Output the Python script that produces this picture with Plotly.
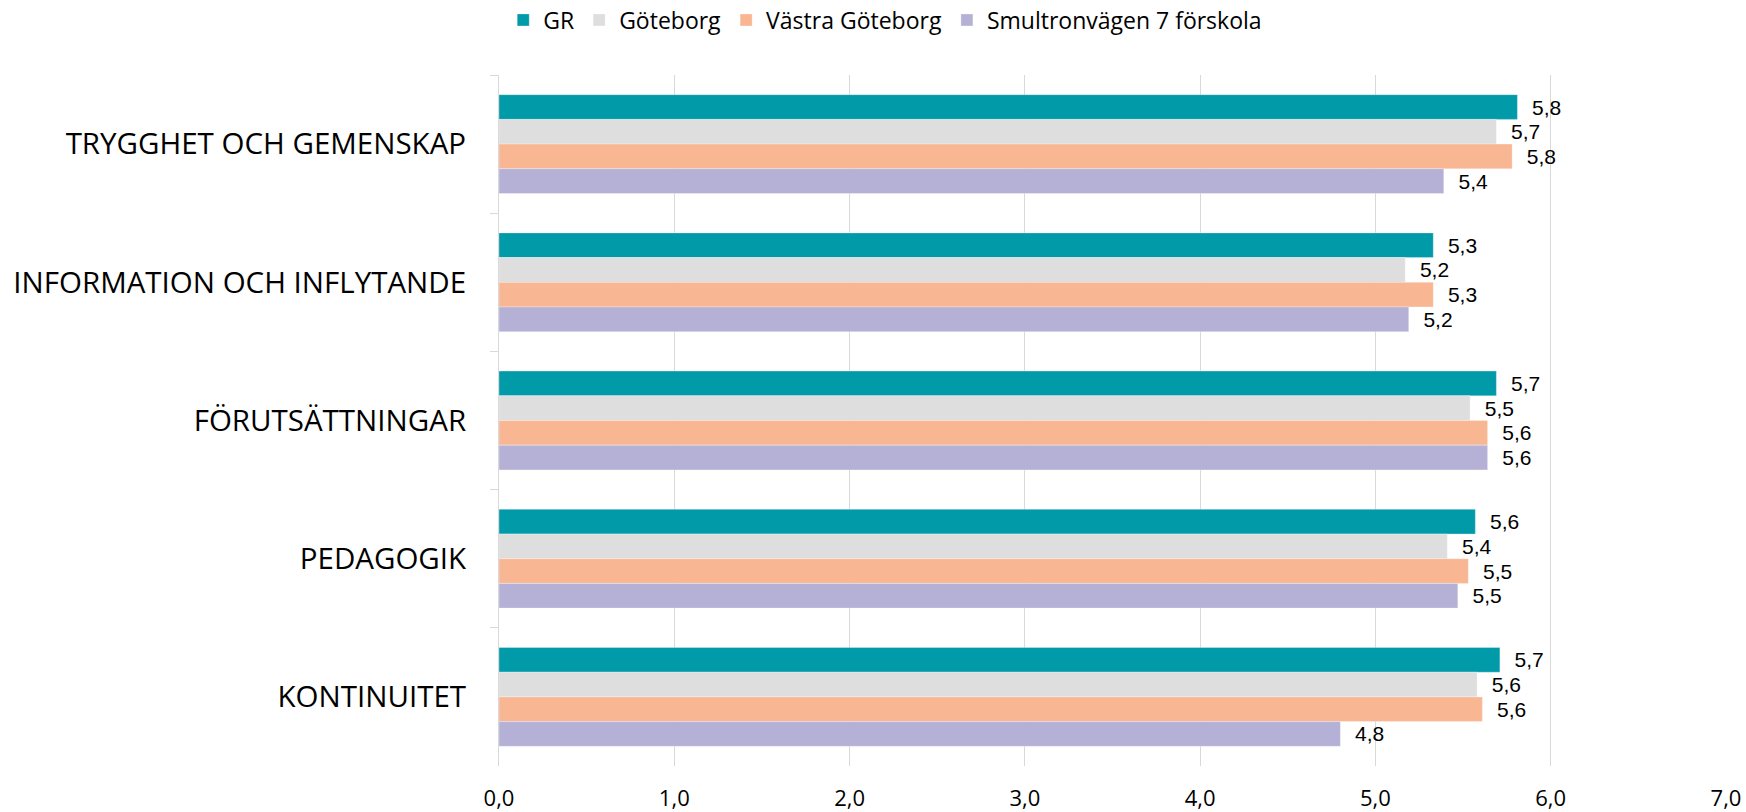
import plotly.graph_objects as go

categories = ["TRYGGHET OCH GEMENSKAP", "INFORMATION OCH INFLYTANDE",
              "FÖRUTSÄTTNINGAR", "PEDAGOGIK", "KONTINUITET"]
series_names = ["GR", "Göteborg", "Västra Göteborg", "Smultronvägen 7 förskola"]
gr = [5.81, 5.33, 5.69, 5.57, 5.71]
goteborg = [5.69, 5.17, 5.54, 5.41, 5.58]
vastra = [5.78, 5.33, 5.64, 5.53, 5.61]
smultron = [5.39, 5.19, 5.64, 5.47, 4.80]
tick_vals = [0, 1, 2, 3, 4, 5, 6, 7]

colors = ["#009AA9", "#DEDEDE", "#F8B692", "#B5B0D5"]
values = [gr, goteborg, vastra, smultron]

fig = go.Figure()
for name, vals, col in zip(series_names, values, colors):
    fig.add_trace(go.Bar(
        y=categories, x=vals, name=name, orientation="h",
        marker=dict(color=col, line=dict(color="rgba(255,255,255,0.6)", width=0.5)),
        texttemplate="\u00a0\u00a0%{x:.1f}", textposition="outside",
        textfont=dict(family="Liberation Sans, Arial", size=21, color="#000000"),
        cliponaxis=False,
    ))

fig.update_layout(
    width=1746, height=812,
    barmode="group", bargap=0.285, bargroupgap=0,
    separators=", ",
    plot_bgcolor="white", paper_bgcolor="white",
    margin=dict(l=499, r=20, t=75, b=46, autoexpand=False),
    font=dict(family="Open Sans", color="#000000"),
    legend=dict(orientation="h", xref="container", yref="container",
                x=0.507, xanchor="center", y=1 - 20 / 812, yanchor="middle",
                font=dict(family="Open Sans", size=23, color="#000000"),
                traceorder="normal"),
    xaxis=dict(range=[0, 7], tickvals=tick_vals, tickformat=".1f",
               showgrid=True, gridcolor="#D9D9D9", gridwidth=1,
               zeroline=False, showline=False, ticks="",
               ticklabelstandoff=17,
               tickfont=dict(family="Open Sans", size=22, color="#000000")),
    yaxis=dict(autorange="reversed", showline=True, linecolor="#D9D9D9", linewidth=1,
               ticks="outside", tickson="boundaries", ticklen=8, tickcolor="#D9D9D9",
               ticklabelstandoff=26, showgrid=False,
               tickfont=dict(family="Open Sans", size=29.5, color="#000000")),
)

fig.write_html("out.html", config={"displayModeBar": False},
               post_script="document.body.style.margin='0';document.body.style.overflow='hidden';")
